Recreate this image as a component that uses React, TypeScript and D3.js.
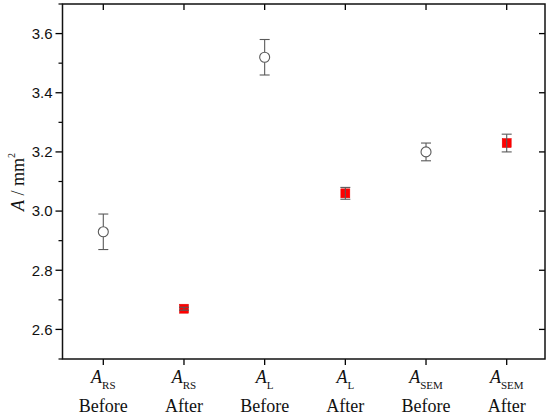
import React from "react";
import * as d3 from "d3";

const categories = ["RS|Before", "RS|After", "L|Before", "L|After", "SEM|Before", "SEM|After"];
const subscripts = ["RS", "RS", "L", "L", "SEM", "SEM"];
const phases = ["Before", "After", "Before", "After", "Before", "After"];
const values = [2.93, 2.67, 3.52, 3.06, 3.2, 3.23];
const errors = [0.06, 0.005, 0.06, 0.02, 0.03, 0.03];
const yTicks = [2.6, 2.8, 3.0, 3.2, 3.4, 3.6];
const yMinorTicks = [2.5, 2.7, 2.9, 3.1, 3.3, 3.5, 3.7];

const W = 550, H = 420;
const L = 62.5, R = 545, T = 4, B = 359;

export default function App() {
  const x = d3.scalePoint<string>().domain(categories).range([103.3, 506.7]);
  const y = d3.scaleLinear().domain([2.5, 3.7]).range([B, T]);
  const errColor = "#5a5a5a";
  const sans = "'Liberation Sans', Arial, sans-serif";
  const serif = "'Liberation Serif', 'Times New Roman', serif";

  return (
    <svg width={W} height={H} style={{ position: "absolute", left: 0, top: 0, background: "#fff" }}>
      <rect x={0} y={0} width={W} height={H} fill="#fff" />
      {/* left axis ticks */}
      {yTicks.map((t) => (
        <g key={"yt" + t}>
          <line x1={L - 7} x2={L} y1={y(t)} y2={y(t)} stroke="#000" strokeWidth={1.3} />
          <line x1={R - 6} x2={R} y1={y(t)} y2={y(t)} stroke="#000" strokeWidth={1.3} />
          <text x={L - 10} y={y(t)} dy="0.36em" textAnchor="end" fontFamily={sans} fontSize={15} fill="#111">
            {t.toFixed(1)}
          </text>
        </g>
      ))}
      {yMinorTicks.map((t) => (
        <line key={"ym" + t} x1={L - 4} x2={L} y1={y(t)} y2={y(t)} stroke="#000" strokeWidth={1.2} />
      ))}
      {/* x ticks */}
      {categories.map((c) => (
        <g key={"xt" + c}>
          <line x1={x(c)!} x2={x(c)!} y1={B} y2={B + 6} stroke="#000" strokeWidth={1.3} />
          <line x1={x(c)!} x2={x(c)!} y1={T} y2={T + 6} stroke="#000" strokeWidth={1.3} />
        </g>
      ))}
      {/* frame */}
      <rect x={L} y={T} width={R - L} height={B - T} fill="none" stroke="#111" strokeWidth={1.5} />
      {/* x labels */}
      {categories.map((c, i) => {
        const cx = x(c)!;
        return (
          <g key={"xl" + c} fontFamily={serif} fill="#111">
            <text x={cx} y={383} textAnchor="middle" fontSize={18}>
              <tspan fontStyle="italic">A</tspan>
              <tspan fontSize={11} dy={6}>{subscripts[i]}</tspan>
            </text>
            <text x={cx} y={412} textAnchor="middle" fontSize={18}>
              {phases[i]}
            </text>
          </g>
        );
      })}
      {/* y title */}
      <text transform="translate(24,182) rotate(-90)" textAnchor="middle" fontFamily={serif} fontSize={18} fill="#111">
        <tspan fontStyle="italic">A</tspan>
        <tspan> / mm</tspan>
        <tspan fontSize={10} dy={-9}>2</tspan>
      </text>
      {/* markers */}
      {categories.map((c, i) => {
        const cx = x(c)!;
        const cy = y(values[i]);
        const before = phases[i] === "Before";
        return before ? (
          <circle key={"m" + c} cx={cx} cy={cy} r={5} fill="#fff" stroke={errColor} strokeWidth={1.1} />
        ) : (
          <rect key={"m" + c} x={cx - 4.5} y={cy - 4.5} width={9} height={9} fill="#ff0000" stroke="#e00000" strokeWidth={0.5} />
        );
      })}
      {/* error bars */}
      {categories.map((c, i) => {
        const cx = x(c)!;
        const cy = y(values[i]);
        const yt = y(values[i] + errors[i]);
        const yb = y(values[i] - errors[i]);
        const before = phases[i] === "Before";
        const off = before ? 5 : 0;
        return (
          <g key={"e" + c} stroke={errColor} strokeWidth={1.1}>
            {cy - off > yt && <line x1={cx} x2={cx} y1={yt} y2={cy - off} />}
            {yb > cy + off && <line x1={cx} x2={cx} y1={cy + off} y2={yb} />}
            <line x1={cx - 5} x2={cx + 5} y1={yt} y2={yt} />
            <line x1={cx - 5} x2={cx + 5} y1={yb} y2={yb} />
          </g>
        );
      })}
    </svg>
  );
}
